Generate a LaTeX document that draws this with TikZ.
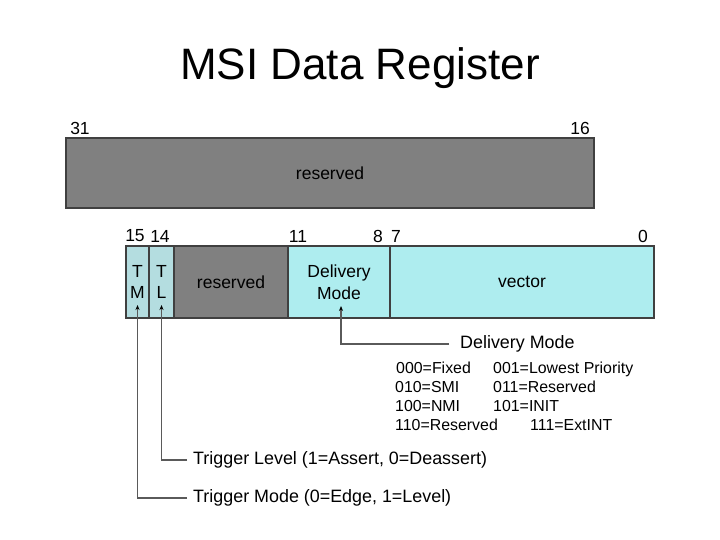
\documentclass[tikz,border=0pt]{standalone}
\usepackage{fontspec}
\setmainfont{Liberation Sans}
\usetikzlibrary{arrows.meta,positioning}
\definecolor{resgray}{HTML}{808080}
\definecolor{fieldcyan}{HTML}{AEEDEF}
\definecolor{flagcyan}{HTML}{B4DDE0}
\definecolor{edgegray}{HTML}{404040}
\definecolor{leadgray}{HTML}{5A5A5A}
\newcommand{\bodyfont}{\fontsize{17.5}{21.5}\selectfont}
\newcommand{\notefont}{\fontsize{17.9}{21.5}\selectfont}
\newcommand{\tablefont}{\fontsize{15.9}{19}\selectfont}

\begin{document}
\begin{tikzpicture}[x=1pt, y=-1pt, >=Stealth,
    field/.style={draw=edgegray, line width=1.1pt, inner sep=0pt, outer sep=0pt,
        anchor=north west, minimum height=72pt, align=center, font=\bodyfont},
    bitno/.style={font=\bodyfont, inner sep=0pt},
    note/.style={font=\notefont, anchor=west, inner sep=0pt},
    code/.style={font=\tablefont, anchor=base west, inner sep=0pt},
    lead/.style={draw=leadgray, line width=1.5pt,
        -{Stealth[length=5pt, width=4pt, color=black]}}]
    \useasboundingbox (0,0) rectangle (720,540);

    % Title
    \node[font=\fontsize{44}{50}\selectfont] (title) at (360,68) {MSI Data Register};

    % Upper half, bits 31..16
    \node[field, fill=resgray, minimum width=528pt, minimum height=70pt] (upres) at (66,138) {reserved};
    \node[bitno] (b31) at (80,128) {31};
    \node[bitno] (b16) at (580,128) {16};

    % Lower half, bits 15..0
    \node[field, fill=flagcyan, minimum width=23pt] (tm) at (126,246) {T\\M};
    \node[field, fill=flagcyan, minimum width=25pt, right=0pt of tm] (tl) {T\\L};
    \node[field, fill=resgray, minimum width=114pt, right=0pt of tl] (lowres) {reserved};
    \node[field, fill=fieldcyan, minimum width=102pt, right=0pt of lowres] (dm) {Delivery\\Mode};
    \node[field, fill=fieldcyan, minimum width=264pt, right=0pt of dm] (vec) {vector};

    \node[bitno] (b15) at (135,236) {15};
    \node[bitno] (b14) at (160,236) {14};
    \node[bitno] (b11) at (298,236) {11};
    \node[bitno] (b8) at (378,236) {8};
    \node[bitno] (b7) at (396,236) {7};
    \node[bitno] (b0) at (643,236) {0};

    % Tips of the leaders
    \coordinate (tmtip) at ([yshift=13pt]tm.south);
    \coordinate (tltip) at ([yshift=13pt]tl.south);
    \coordinate (dmtip) at ([xshift=2pt, yshift=12pt]dm.south);

    % Delivery mode legend
    \node[note] (dmnote) at (460,344) {Delivery Mode};
    \node[code] (c000) at (396,373) {000=Fixed};
    \node[code] (c001) at (493,373) {001=Lowest Priority};
    \node[code] (c010) at (395,392) {010=SMI};
    \node[code] (c011) at (493,392) {011=Reserved};
    \node[code] (c100) at (395,411) {100=NMI};
    \node[code] (c101) at (493,411) {101=INIT};
    \node[code] (c110) at (395,430) {110=Reserved};
    \node[code] (c111) at (530,430) {111=ExtINT};

    % Trigger notes
    \node[note] (tlnote) at (193,460) {Trigger Level (1=Assert, 0=Deassert)};
    \node[note] (tmnote) at (193,498) {Trigger Mode (0=Edge, 1=Level)};

    % Leaders
    \draw[lead] ([xshift=-11pt]dmnote.west) -| (dmtip);
    \draw[lead] ([xshift=-6pt]tlnote.west) -| (tltip);
    \draw[lead] ([xshift=-6pt]tmnote.west) -| (tmtip);
\end{tikzpicture}
\end{document}
